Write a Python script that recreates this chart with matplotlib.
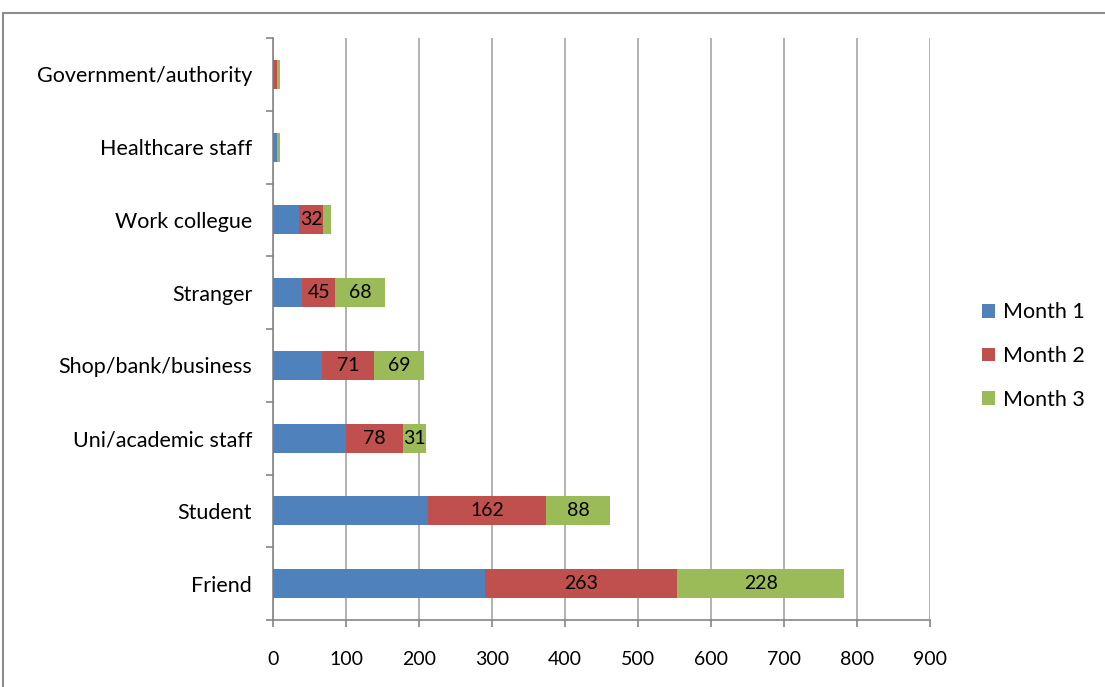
import numpy as np
import matplotlib.pyplot as plt
from matplotlib.patches import Rectangle

plt.rcParams['font.family'] = ['Lato', 'DejaVu Sans']

categories = ['Friend', 'Student', 'Uni/academic staff', 'Shop/bank/business',
              'Stranger', 'Work collegue', 'Healthcare staff', 'Government/authority']
month1 = [291, 212, 100, 67, 40, 36, 6, 2]
month2 = [263, 162, 78, 71, 45, 32, 0, 3]
month3 = [228, 88, 31, 69, 68, 11, 4, 5]
series_names = ['Month 1', 'Month 2', 'Month 3']
colors = ['#4F81BD', '#C0504D', '#9BBB59']
xticks = [0, 100, 200, 300, 400, 500, 600, 700, 800, 900]

fig = plt.figure(figsize=(11.05, 6.87), dpi=100)
ax = fig.add_axes([273/1105, 1 - 620/687, 657/1105, 582/687])

# chart frame (only top/left edges visible)
fig.patches.append(Rectangle((3/1105, -0.1), 1.2, 1 - 13/687 + 0.1,
                             transform=fig.transFigure, fill=False,
                             edgecolor='#8C8C8C', linewidth=1.5))

y = np.arange(len(categories))
left = np.zeros(len(categories))
for vals, name, c in zip([month1, month2, month3], series_names, colors):
    vals = np.array(vals, dtype=float)
    ax.barh(y, vals, left=left, height=0.4, color=c, label=name, zorder=3)
    if name != 'Month 1':
        for yi, l, v in zip(y, left, vals):
            if v >= 30:
                ax.text(l + v / 2, yi, str(int(v)), ha='center', va='center',
                        fontsize=14, color='black', zorder=4)
    left += vals

ax.set_xlim(0, 900)
ax.set_ylim(-0.5, len(categories) - 0.5)
ax.set_xticks(xticks)
ax.set_xticklabels([str(t) for t in xticks], fontsize=14)
ax.set_yticks(y)
ax.set_yticklabels(categories, fontsize=15.5)
ax.set_yticks(np.arange(-0.5, len(categories), 1), minor=True)

ax.grid(axis='x', color='#A6A6A6', linewidth=1.2, zorder=0)
for s in ['top', 'right']:
    ax.spines[s].set_visible(False)
for s in ['left', 'bottom']:
    ax.spines[s].set_color('#868686')
    ax.spines[s].set_linewidth(1.2)

ax.tick_params(axis='y', which='major', length=0, pad=15)
ax.tick_params(axis='y', which='minor', length=5, color='#868686', width=1.2)
ax.tick_params(axis='x', which='major', length=5, color='#868686', width=1.2, pad=17)

ax.legend(loc='center left', bbox_to_anchor=(963/657 - 273/657, (620 - 356)/582),
          frameon=False, fontsize=15.5, handlelength=0.6, handleheight=0.6,
          labelspacing=1.1, handletextpad=0.35)

fig.savefig('out.png', dpi=100, facecolor='white')
